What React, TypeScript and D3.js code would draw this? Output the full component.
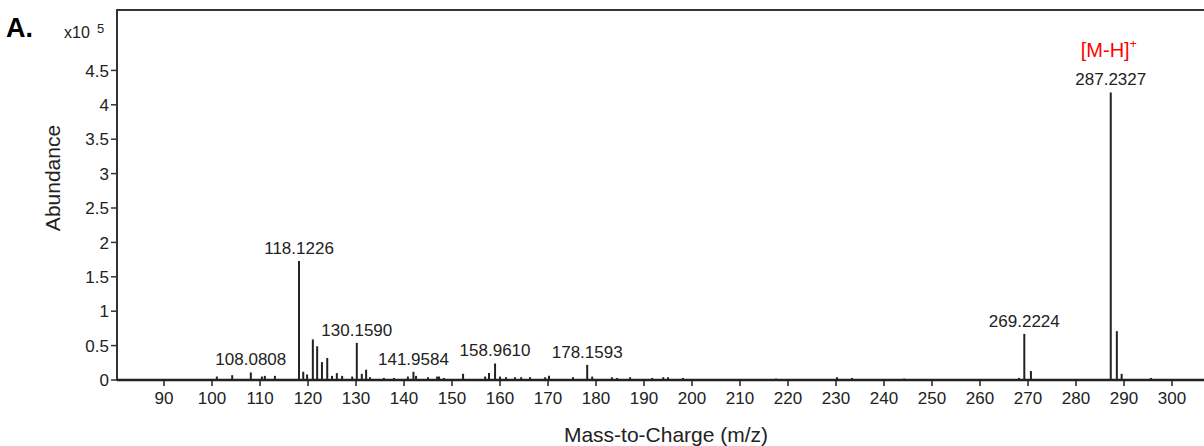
import React from 'react';
import * as d3 from 'd3';

// m/z and abundance (x10^5)
const peakMz = [
  101.0, 104.2, 108.0808, 110.4, 111.0, 113.1, 118.1226, 119.0, 119.8, 121.0,
  121.9, 122.9, 124.0, 125.0, 126.0, 127.1, 129.2, 130.159, 131.2, 132.1,
  132.9, 135.8, 137.9, 140.8, 141.9584, 142.5, 145.0, 146.9, 147.3, 148.3,
  152.3, 156.9, 157.7, 158.961, 160.0, 161.25, 163.1, 164.4, 166.25, 169.4,
  170.2, 175.2, 178.1593, 179.2, 183.3, 184.4, 187.1, 191.7, 194.0, 195.0,
  198.1, 217.5, 230.2, 233.3, 244.2, 268.1, 269.2224, 270.6, 287.2327, 288.5,
  289.5, 295.6,
];
const peakAbund = [
  0.05, 0.07, 0.11, 0.05, 0.06, 0.06, 1.73, 0.12, 0.08, 0.59,
  0.49, 0.26, 0.32, 0.06, 0.1, 0.06, 0.05, 0.54, 0.09, 0.15,
  0.04, 0.03, 0.03, 0.05, 0.12, 0.06, 0.04, 0.05, 0.05, 0.03,
  0.09, 0.05, 0.1, 0.24, 0.05, 0.04, 0.04, 0.04, 0.04, 0.04,
  0.06, 0.04, 0.22, 0.05, 0.04, 0.03, 0.04, 0.03, 0.04, 0.04,
  0.03, 0.02, 0.04, 0.03, 0.02, 0.03, 0.67, 0.13, 4.18, 0.71,
  0.09, 0.03,
];
const labelMz = [108.0808, 118.1226, 130.159, 141.9584, 158.961, 178.1593, 269.2224, 287.2327];
const labelText = ['108.0808', '118.1226', '130.1590', '141.9584', '158.9610', '178.1593', '269.2224', '287.2327'];

const xTicks = d3.range(90, 301, 10);
const yTicks = [0, 0.5, 1, 1.5, 2, 2.5, 3, 3.5, 4, 4.5];

const W = 1204;
const H = 446;
const left = 117;
const top = 10;
const base = 380;
const font = 'Arial, "Liberation Sans", sans-serif';

export default function App() {
  const x = d3.scaleLinear().domain([80.2, 80.2 + (W - left) / 4.8]).range([left, W]);
  const y = d3.scaleLinear().domain([0, 4.5]).range([base, base - 4.5 * 68.8]);
  const ink = '#222';

  return (
    <svg width={W} height={H} style={{ position: 'absolute', left: 0, top: 0, background: '#fff' }}
      fontFamily={font}>
      <text x={6} y={37} fontSize={27} fontWeight="bold" fill="#000">A.</text>
      <text x={64} y={38} fontSize={16} fill={ink}>x10</text>
      <text x={97} y={33} fontSize={13} fill={ink}>5</text>

      {/* frame */}
      <line x1={left} y1={top} x2={W} y2={top} stroke="#333" strokeWidth={2} />
      <line x1={left} y1={top - 1} x2={left} y2={base + 1} stroke="#333" strokeWidth={2} />

      {/* y ticks */}
      {yTicks.map(t => (
        <g key={t}>
          <line x1={left - 6} x2={left} y1={y(t)} y2={y(t)} stroke="#333" strokeWidth={1.5} />
          <text x={left - 8} y={y(t)} dy="0.36em" textAnchor="end" fontSize={17} fill={ink}>{t}</text>
        </g>
      ))}

      {/* peaks */}
      {peakMz.map((m, i) => (
        <line key={i} x1={x(m)} x2={x(m)} y1={base} y2={y(peakAbund[i])} stroke={ink} strokeWidth={2} />
      ))}

      {/* x axis */}
      <line x1={left} x2={W} y1={base} y2={base} stroke="#222" strokeWidth={2.5} />
      {xTicks.map(t => (
        <g key={t}>
          <line x1={x(t)} x2={x(t)} y1={base} y2={base + 6} stroke="#222" strokeWidth={1.5} />
          <text x={x(t)} y={base + 24} textAnchor="middle" fontSize={17} fill={ink}>{t}</text>
        </g>
      ))}

      {/* peak labels */}
      {labelMz.map((m, i) => {
        const a = peakAbund[peakMz.indexOf(m)];
        return (
          <text key={m} x={x(m)} y={y(a) - 7} textAnchor="middle" fontSize={17} fill={ink}>{labelText[i]}</text>
        );
      })}
      <text x={x(287.2327) - 2} y={57} textAnchor="middle" fontSize={20} fill="#f00">
        [M-H]<tspan fontSize={12} dy={-9}>+</tspan>
      </text>

      <text x={666} y={442} textAnchor="middle" fontSize={21} fill={ink}>Mass-to-Charge (m/z)</text>
      <text transform={`translate(60,178) rotate(-90)`} textAnchor="middle" fontSize={21} fill={ink}>Abundance</text>
    </svg>
  );
}
